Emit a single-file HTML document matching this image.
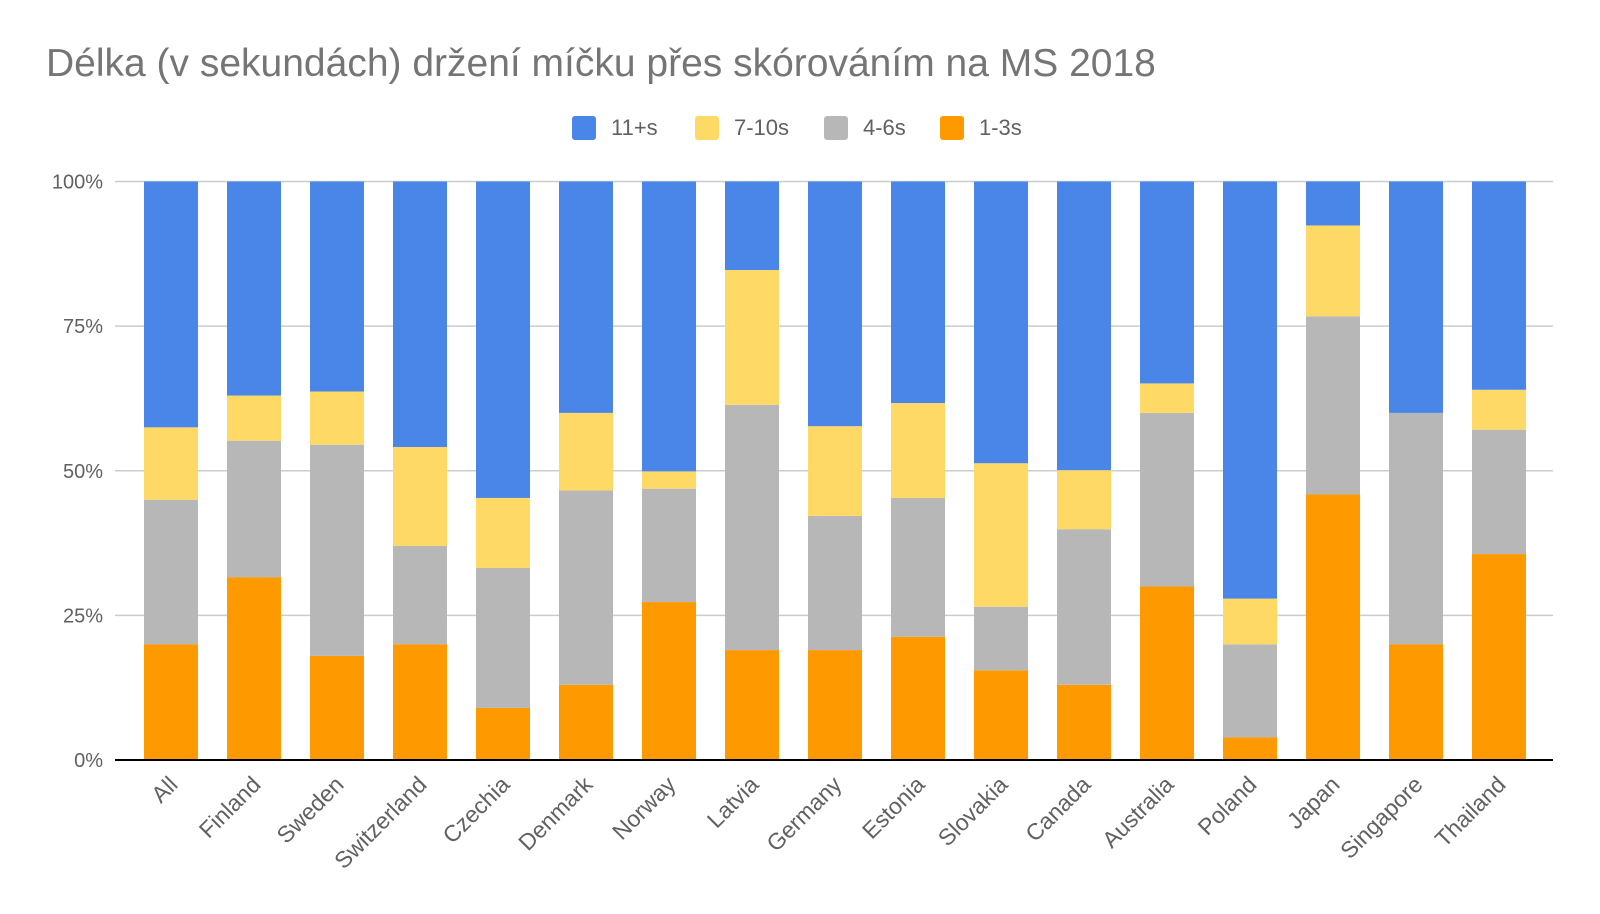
<!DOCTYPE html>
<html><head><meta charset="utf-8"><style>
body{margin:0;background:#fff;}
svg{display:block;font-family:"Liberation Sans",sans-serif;}
</style></head><body>
<svg id="chart" width="1600" height="914" viewBox="0 0 1600 914">
<rect width="1600" height="914" fill="#fff"/>
<text x="46" y="76" font-size="39" fill="#757575">Délka (v sekundách) držení míčku přes skórováním na MS 2018</text>
<g id="legend"></g>
<g id="grid"></g><g id="bars"></g><g id="axes"></g>
</svg>
<script>
const categories=["All","Finland","Sweden","Switzerland","Czechia","Denmark","Norway","Latvia","Germany","Estonia","Slovakia","Canada","Australia","Poland","Japan","Singapore","Thailand"];
const s13=[20,31.6,18,20,9,13,27.3,19,19,21.3,15.5,13,30,3.9,45.9,20,35.6];
const s46=[25,23.6,36.5,17,24.2,33.6,19.6,42.4,23.2,24,11,26.9,30,16.1,30.8,40,21.5];
const s710=[12.5,7.8,9.2,17.1,12.1,13.4,3,23.3,15.5,16.4,24.8,10.2,5.1,7.9,15.7,0,6.9];
const s11=[42.5,37,36.3,45.9,54.7,40,50.1,15.3,42.3,38.3,48.7,49.9,34.9,72.1,7.6,40,36];
const seriesNames=["1-3s","4-6s","7-10s","11+s"];
const tickLabels=["0%","25%","50%","75%","100%"];
const tickValues=[0,25,50,75,100];
const NS="http://www.w3.org/2000/svg";
const colors={"1-3s":"#ff9900","4-6s":"#b7b7b7","7-10s":"#ffd966","11+s":"#4a86e8"};
const L=129.5,R=1540.5,Y0=760,Y1=181.5,axL=115,axR=1553;
const step=(R-L)/categories.length,bw=54;
const x=i=>L+step*(i+0.5);
const y=v=>Y0-(Y0-Y1)*v/100;
function mk(t,a,p){const e=document.createElementNS(NS,t);for(const k in a)e.setAttribute(k,a[k]);p.appendChild(e);return e;}
const grid=document.getElementById('grid'),bars=document.getElementById('bars'),axes=document.getElementById('axes'),legend=document.getElementById('legend');
tickValues.forEach((v,i)=>{
  if(v>0){const g=mk('line',{x1:axL,x2:axR,y1:y(v),y2:y(v),stroke:'#cccccc','stroke-width':1.5},grid);
  
  }
  const t=mk('text',{x:103,y:y(v)+7,'text-anchor':'end','font-size':20,fill:'#616161'},axes);
  t.textContent=tickLabels[i];
  
  
});
const data=[s13,s46,s710,s11];
categories.forEach((c,i)=>{
  let cum=0;
  data.forEach((s,k)=>{
    const v=s[i];if(v<=0){return;}
    const r=mk('rect',{x:x(i)-bw/2,y:y(cum+v),width:bw,height:y(cum)-y(cum+v),fill:colors[seriesNames[k]]},bars);
    
    
    cum+=v;
  });
  const t=mk('text',{x:x(i)+8,y:786,'text-anchor':'end','font-size':23,fill:'#616161',transform:`rotate(-45 ${x(i)+8} 786)`},axes);
  t.textContent=c;
  
  
});
const base=mk('line',{x1:axL,x2:axR,y1:Y0,y2:Y0,stroke:'#000','stroke-width':2},axes);


const legendItems=["11+s","7-10s","4-6s","1-3s"];
const legendX=[572,695,824,940];
legendItems.forEach((n,i)=>{
  const r=mk('rect',{x:legendX[i],y:116,width:24,height:24,rx:3,fill:colors[n]},legend);
  
  
  const t=mk('text',{x:legendX[i]+39,y:135,'font-size':22,fill:'#616161'},legend);
  t.textContent=n;
  
  
});
</script>
</body></html>
